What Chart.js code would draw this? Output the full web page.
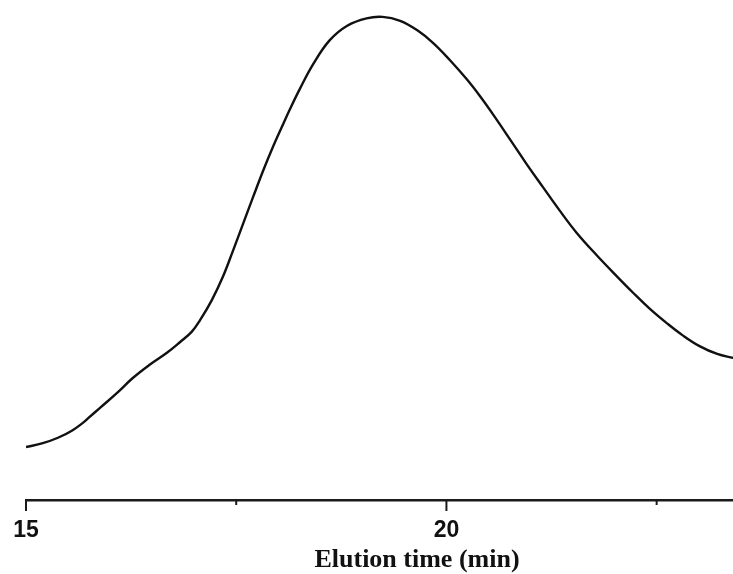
<!DOCTYPE html>
<html>
<head>
<meta charset="utf-8">
<title>Elution profile</title>
<script src="https://cdn.jsdelivr.net/npm/chart.js@4.4.1/dist/chart.umd.min.js"></script>
<style>
  html, body { margin: 0; padding: 0; background: #fff; overflow: hidden; }
  #frame { width: 733px; height: 574px; overflow: hidden; }
  #wrap { width: 808px; height: 574px; position: relative; }
</style>
</head>
<body>
<div id="frame"><div id="wrap"><canvas id="chromatogram"></canvas></div></div>
<script>
// elution time (min) and detector response (arbitrary units)
const elutionTime = [
  15.00, 15.20, 15.38, 15.55, 15.68, 15.74, 15.88, 16.08, 16.27, 16.47,
  16.68, 16.83, 16.97, 17.07, 17.21, 17.34, 17.46, 17.58, 17.70, 17.82,
  17.94, 18.06, 18.14, 18.26, 18.41, 18.61, 18.82, 19.05, 19.24, 19.45,
  19.65, 19.84, 20.04, 20.24, 20.40, 20.55, 20.76, 20.96, 21.15, 21.35,
  21.55, 21.79, 22.03, 22.22, 22.42, 22.62, 22.81, 23.01, 23.22, 23.41
];
const detectorSignal = [
  10.8, 11.6, 12.7, 14.2, 15.8, 16.7, 18.8, 21.8, 24.9, 27.6,
  30.1, 32.2, 34.3, 36.7, 40.8, 45.5, 50.8, 56.3, 61.8, 67.2,
  72.2, 76.8, 79.8, 84.0, 88.8, 93.8, 96.8, 98.3, 98.6, 97.8,
  95.9, 93.3, 89.8, 85.9, 82.4, 78.8, 73.5, 68.4, 63.8, 59.0,
  54.5, 49.9, 45.6, 42.3, 39.0, 36.1, 33.6, 31.4, 29.8, 29.0
];
const majorTicks = [15, 20];
const tickStep = 2.5;

const points = elutionTime.map((t, i) => ({ x: t, y: detectorSignal[i] }));

// short/long tick marks under the time axis
const tickMarks = {
  id: 'tickMarks',
  afterDraw(chart) {
    const scale = chart.scales.x;
    const ctx = chart.ctx;
    ctx.save();
    ctx.strokeStyle = '#1a1a1a';
    ctx.lineWidth = 2;
    scale.ticks.forEach(t => {
      const x = scale.getPixelForValue(t.value);
      const len = majorTicks.includes(t.value) ? 11 : 5;
      ctx.beginPath();
      ctx.moveTo(x, scale.top);
      ctx.lineTo(x, scale.top + len);
      ctx.stroke();
    });
    ctx.restore();
  }
};

new Chart(document.getElementById('chromatogram'), {
  type: 'line',
  data: {
    datasets: [{
      data: points,
      borderColor: '#111',
      borderWidth: 2.4,
      pointRadius: 0,
      tension: 0.4,
      fill: false
    }]
  },
  options: {
    responsive: true,
    maintainAspectRatio: false,
    animation: false,
    layout: { padding: { top: 10, left: 26, right: 0, bottom: 0 } },
    plugins: { legend: { display: false }, tooltip: { enabled: false } },
    scales: {
      x: {
        type: 'linear',
        min: 15,
        max: 24.3,
        afterFit(scale) { scale.height = 74; },
        grid: { display: false },
        border: { display: true, color: '#1a1a1a', width: 2.5 },
        ticks: {
          stepSize: tickStep,
          includeBounds: false,
          autoSkip: false,
          maxRotation: 0,
          padding: 9,
          color: '#111',
          font: { family: 'Liberation Sans', size: 23, weight: 'bold' },
          callback: v => (majorTicks.includes(v) ? String(v) : '')
        },
        title: {
          display: true,
          text: 'Elution time (min)',
          color: '#111',
          font: { family: 'Liberation Serif', size: 26, weight: 'bold', lineHeight: 1 },
          padding: { top: 0, bottom: 1 }
        }
      },
      y: {
        display: false,
        min: 0,
        max: 100
      }
    }
  },
  plugins: [tickMarks]
});
</script>
</body>
</html>
